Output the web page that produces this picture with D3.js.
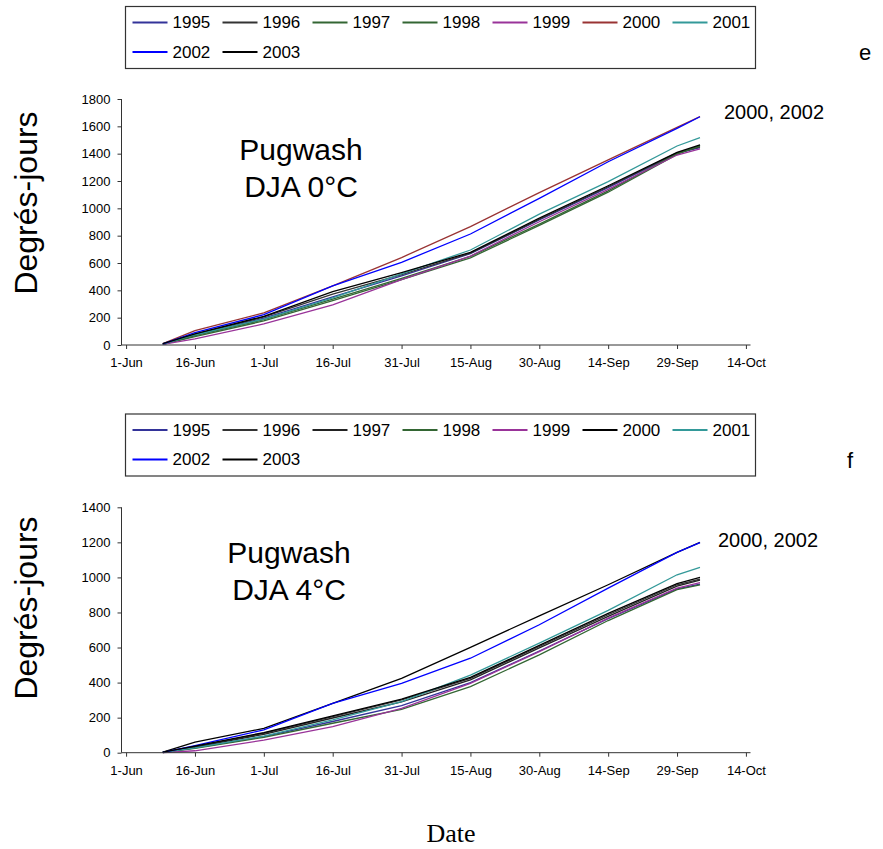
<!DOCTYPE html>
<html>
<head>
<meta charset="utf-8">
<script src="https://cdn.jsdelivr.net/npm/d3@7"></script>
<style>
  body { margin: 0; background: #fff; }
  text { font-family: 'Liberation Sans', Arial, sans-serif; fill: #000; }
</style>
</head>
<body>
<div id="chart"></div>
<script>
// Series names, shared by both panels
var years = ['1995', '1996', '1997', '1998', '1999', '2000', '2001', '2002', '2003']

// Dates the curves were read at (day-month)
var dates = ['9-Jun', '16-Jun', '1-Jul', '16-Jul', '31-Jul', '15-Aug', '30-Aug', '14-Sep', '29-Sep', '4-Oct']

// x tick labels
var tickLabels = ['1-Jun', '16-Jun', '1-Jul', '16-Jul', '31-Jul', '15-Aug', '30-Aug', '14-Sep', '29-Sep', '14-Oct']

// Degree-days above 0°C, one row per year
var dja0 = [
  [6, 72, 196, 352, 505, 668, 915, 1152, 1402, 1445],
  [8, 78, 205, 372, 515, 672, 920, 1158, 1405, 1450],
  [5, 68, 185, 335, 488, 648, 885, 1128, 1400, 1455],
  [4, 62, 176, 325, 478, 638, 875, 1118, 1395, 1460],
  [4, 45, 154, 293, 479, 651, 902, 1139, 1390, 1435],
  [10, 105, 235, 432, 640, 866, 1115, 1354, 1593, 1672],
  [7, 75, 190, 345, 520, 695, 958, 1195, 1456, 1517],
  [8, 90, 222, 432, 605, 812, 1073, 1341, 1585, 1670],
  [10, 82, 210, 390, 530, 678, 928, 1165, 1410, 1465]
]

// Degree-days above 4°C, one row per year
var dja4 = [
  [1, 28, 92, 178, 268, 400, 580, 765, 935, 962],
  [3, 35, 111, 206, 301, 424, 606, 787, 958, 990],
  [2, 32, 105, 198, 290, 415, 598, 778, 950, 985],
  [1, 25, 88, 168, 247, 377, 558, 754, 930, 958],
  [0, 11, 72, 149, 253, 396, 577, 768, 939, 970],
  [3, 60, 139, 282, 424, 601, 781, 958, 1143, 1200],
  [2, 28, 95, 187, 291, 443, 625, 812, 1015, 1057],
  [2, 40, 130, 282, 396, 539, 730, 939, 1143, 1198],
  [3, 38, 115, 210, 305, 430, 612, 795, 965, 1000]
]

var yTicks0 = [0, 200, 400, 600, 800, 1000, 1200, 1400, 1600, 1800]
var yTicks4 = [0, 200, 400, 600, 800, 1000, 1200, 1400]

var colors0 = ['#333399', '#333333', '#336633', '#336633', '#993399', '#993333', '#339999', '#0000ff', '#000000']
var colors4 = ['#333399', '#333333', '#222222', '#336633', '#993399', '#000000', '#339999', '#0000ff', '#000000']

var parseDay = d3.timeParse('%d-%b-%Y')
var dateObjs = dates.map(d => parseDay(d + '-2001'))
var tickDates = tickLabels.map(d => parseDay(d + '-2001'))

var svg = d3.select('#chart')
  .append('svg')
  .attr('width', 883)
  .attr('height', 849)

// Same date axis for both panels
var xPositionScale = d3.scaleTime()
  .domain([parseDay('31-May-2001'), parseDay('15-Oct-2001')])
  .range([121.5, 750.5])

function drawPanel(opts) {
  var yPositionScale = d3.scaleLinear()
    .domain([0, opts.yMax])
    .range([opts.bottom, opts.top])

  var line = d3.line()
    .x((d, i) => xPositionScale(dateObjs[i]))
    .y(d => yPositionScale(d))

  // the year curves, 1995 first so 2003 ends up on top
  svg.append('g')
    .selectAll('path')
    .data(opts.values)
    .enter().append('path')
    .attr('d', d => line(d))
    .attr('fill', 'none')
    .attr('stroke', (d, i) => opts.colors[i])
    .attr('stroke-width', 1.3)

  var yAxis = d3.axisLeft(yPositionScale)
    .tickValues(opts.yTicks)
    .tickFormat(d => d)
    .tickSize(4)
    .tickPadding(7)

  var yg = svg.append('g')
    .attr('transform', 'translate(121.5,0)')
    .call(yAxis)

  var xAxis = d3.axisBottom(xPositionScale)
    .tickValues(tickDates)
    .tickFormat((d, i) => tickLabels[i])
    .tickSize(4)
    .tickPadding(9)

  var xg = svg.append('g')
    .attr('transform', `translate(0,${opts.bottom})`)
    .call(xAxis)

  ;[yg, xg].forEach(g => {
    g.selectAll('path, line').attr('stroke', '#333')
    g.selectAll('text').attr('font-size', 13).attr('font-family', "'Liberation Sans', Arial, sans-serif")
  })
  // Excel style: no end caps on the axis lines
  yg.select('.domain').attr('d', `M0,${opts.bottom}V${opts.top}`)
  xg.select('.domain').attr('d', `M121.5,0H750.5`)

  // Titles inside the plot
  svg.append('text')
    .text('Pugwash')
    .attr('x', opts.titleX)
    .attr('y', opts.titleY)
    .attr('text-anchor', 'middle')
    .attr('font-size', 30)

  svg.append('text')
    .text(opts.subtitle)
    .attr('x', opts.titleX)
    .attr('y', opts.titleY + 37)
    .attr('text-anchor', 'middle')
    .attr('font-size', 30)

  svg.append('text')
    .text('2000, 2002')
    .attr('x', opts.noteX)
    .attr('y', opts.noteY)
    .attr('font-size', 20)

  svg.append('text')
    .text('Degrés-jours')
    .attr('transform', `translate(37,${opts.axisTitleY}) rotate(-90)`)
    .attr('text-anchor', 'middle')
    .attr('font-size', 32)

  svg.append('text')
    .text(opts.letter)
    .attr('x', opts.letterX)
    .attr('y', opts.letterY)
    .attr('text-anchor', 'middle')
    .attr('font-size', 22)

  // Legend box
  var legend = svg.append('g')
    .attr('transform', `translate(125.5,${opts.legendTop})`)

  legend.append('rect')
    .attr('width', 630)
    .attr('height', 62)
    .attr('fill', 'none')
    .attr('stroke', '#333')
    .attr('stroke-width', 1.2)

  var items = legend.selectAll('g.item')
    .data(years)
    .enter().append('g')
    .attr('class', 'item')
    .attr('transform', (d, i) => `translate(${7 + (i % 7) * 90},${i < 7 ? 16 : 45.5})`)

  items.append('line')
    .attr('x1', 0)
    .attr('x2', 35)
    .attr('stroke', (d, i) => opts.colors[i])
    .attr('stroke-width', 2)

  items.append('text')
    .text(d => d)
    .attr('x', 40)
    .attr('dy', '0.35em')
    .attr('font-size', 17)
}

drawPanel({
  values: dja0, colors: colors0, yMax: 1800, yTicks: yTicks0,
  top: 99, bottom: 345, subtitle: 'DJA 0°C',
  titleX: 301, titleY: 160, noteX: 724, noteY: 119,
  axisTitleY: 203, letter: 'e', letterX: 865, letterY: 60, legendTop: 6.5
})

drawPanel({
  values: dja4, colors: colors4, yMax: 1400, yTicks: yTicks4,
  top: 507.3, bottom: 752.7, subtitle: 'DJA 4°C',
  titleX: 289, titleY: 563, noteX: 718, noteY: 547,
  axisTitleY: 608, letter: 'f', letterX: 850, letterY: 468, legendTop: 414
})

svg.append('text')
  .text('Date')
  .attr('x', 451)
  .attr('y', 842)
  .attr('text-anchor', 'middle')
  .attr('font-size', 26)
  .style('font-family', "'Liberation Serif', 'Times New Roman', serif")
</script>
</body>
</html>
